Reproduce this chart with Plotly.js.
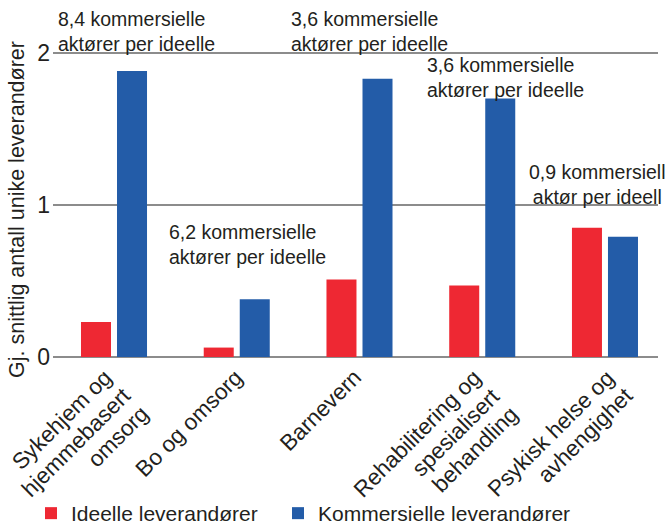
<!DOCTYPE html>
<html>
<head>
<meta charset="utf-8">
<script src="https://cdn.plot.ly/plotly-3.0.1.min.js"></script>
<style>
  html, body { margin: 0; padding: 0; background: #ffffff; }
  #chart { width: 667px; height: 528px; }
</style>
</head>
<body>
<div id="chart"></div>
<script>
// ---- data ----
const categories = [
  "Sykehjem og<br>hjemmebasert<br>omsorg",
  "Bo og omsorg",
  "Barnevern",
  "Rehabilitering og<br>spesialisert<br>behandling",
  "Psykisk helse og<br>avhengighet"
];
const ideelle = [0.23, 0.062, 0.51, 0.47, 0.85];
const kommersielle = [1.88, 0.38, 1.83, 1.70, 0.79];
const seriesNames = ["Ideelle leverandører", "Kommersielle leverandører"];
const ratioTexts = [
  "8,4 kommersielle<br>aktører per ideelle",
  "6,2 kommersielle<br>aktører per ideelle",
  "3,6 kommersielle<br>aktører per ideelle",
  "3,6 kommersielle<br>aktører per ideelle",
  "0,9 kommersiell<br>aktør per ideell"
];
const yTickVals = [0, 1, 2];
const yTickText = ["0", "1", "2"];
const yTitle = "Gj. snittlig antall unike leverandører";

// ---- layout helpers (pixel placement of text) ----
const W = 667, H = 528;
const M = { l: 53, r: 9, t: 20, b: 171 };
const pw = W - M.l - M.r, ph = H - M.t - M.b;
const px = x => (x - M.l) / pw;
const py = y => (H - M.b - y) / ph;

// ratio note placement: [x px, top y px, xanchor, align]
const ratioPos = [
  [56, 6, "left", "left"],
  [167, 219, "left", "left"],
  [289, 6, "left", "left"],
  [425, 52, "left", "left"],
  [597, 159, "center", "center"]
];
// rotated category labels: end point of first line [x px, y px]
const labelEnd = [
  [110, 373],
  [240, 373],
  [359, 373],
  [479, 373],
  [612, 373]
];
const LINE_STEP = 18.3;   // per-line shift (down-right) of right-aligned lines
const LABEL_SIZE = 22.5;

const FONT = "Liberation Sans, Arial, sans-serif";
const TXT = "#231f20";

const traces = [
  { type: "bar", name: seriesNames[0], x: categories, y: ideelle,
    marker: { color: "#ee2833" }, hoverinfo: "y", legend: "legend" },
  { type: "bar", name: seriesNames[1], x: categories, y: kommersielle,
    marker: { color: "#235ca8" }, hoverinfo: "y", legend: "legend2" }
];

const annotations = ratioTexts.map((t, i) => ({
  text: t, xref: "paper", yref: "paper",
  x: px(ratioPos[i][0]), y: py(ratioPos[i][1]),
  xanchor: ratioPos[i][2], yanchor: "top", align: ratioPos[i][3],
  showarrow: false, font: { family: FONT, size: 19.5, color: TXT }
}));
categories.forEach((c, i) => {
  c.split("<br>").forEach((line, k) => {
    const ex = labelEnd[i][0] + k * LINE_STEP;
    const ey = labelEnd[i][1] + k * LINE_STEP;
    annotations.push({
      text: line, xref: "paper", yref: "paper",
      x: px(ex + 10.0), y: py(ey - 10.8),
      xanchor: "right", yanchor: "top", align: "right",
      textangle: -45, showarrow: false,
      font: { family: FONT, size: LABEL_SIZE, color: TXT }
    });
  });
});
annotations.push({
  text: yTitle, xref: "paper", yref: "paper",
  x: px(17), y: py(210), xanchor: "center", yanchor: "middle",
  textangle: -90, showarrow: false,
  font: { family: FONT, size: 21.5, color: TXT }
});

const legendBase = {
  orientation: "h", xref: "container", yref: "container",
  y: 1 - 493 / H, xanchor: "left", yanchor: "top",
  font: { family: FONT, size: 21, color: TXT },
  bgcolor: "rgba(0,0,0,0)"
};

const layout = {
  width: W, height: H,
  margin: M,
  paper_bgcolor: "#ffffff", plot_bgcolor: "#ffffff",
  font: { family: FONT, color: TXT, size: 21.5 },
  barmode: "group",
  bargap: 0.413,
  bargroupgap: 0.167,
  showlegend: true,
  legend: Object.assign({}, legendBase, { x: 31 / W }),
  legend2: Object.assign({}, legendBase, { x: 278 / W }),
  xaxis: {
    type: "category",
    range: [-0.497, 4.432],
    showticklabels: false,
    ticks: "", showline: false, showgrid: false, zeroline: false,
    fixedrange: true
  },
  yaxis: {
    range: [0, ph / 152.1],
    tickvals: yTickVals, ticktext: yTickText,
    showgrid: true, gridcolor: "#8c8c8c", gridwidth: 1.5,
    zeroline: true, zerolinecolor: "#8c8c8c", zerolinewidth: 1.5,
    showline: false, ticks: "",
    tickfont: { family: FONT, size: 23, color: TXT },
    ticklabelstandoff: 2,
    fixedrange: true
  },
  annotations: annotations
};

Plotly.newPlot("chart", traces, layout, { displayModeBar: false, staticPlot: true });
</script>
</body>
</html>
